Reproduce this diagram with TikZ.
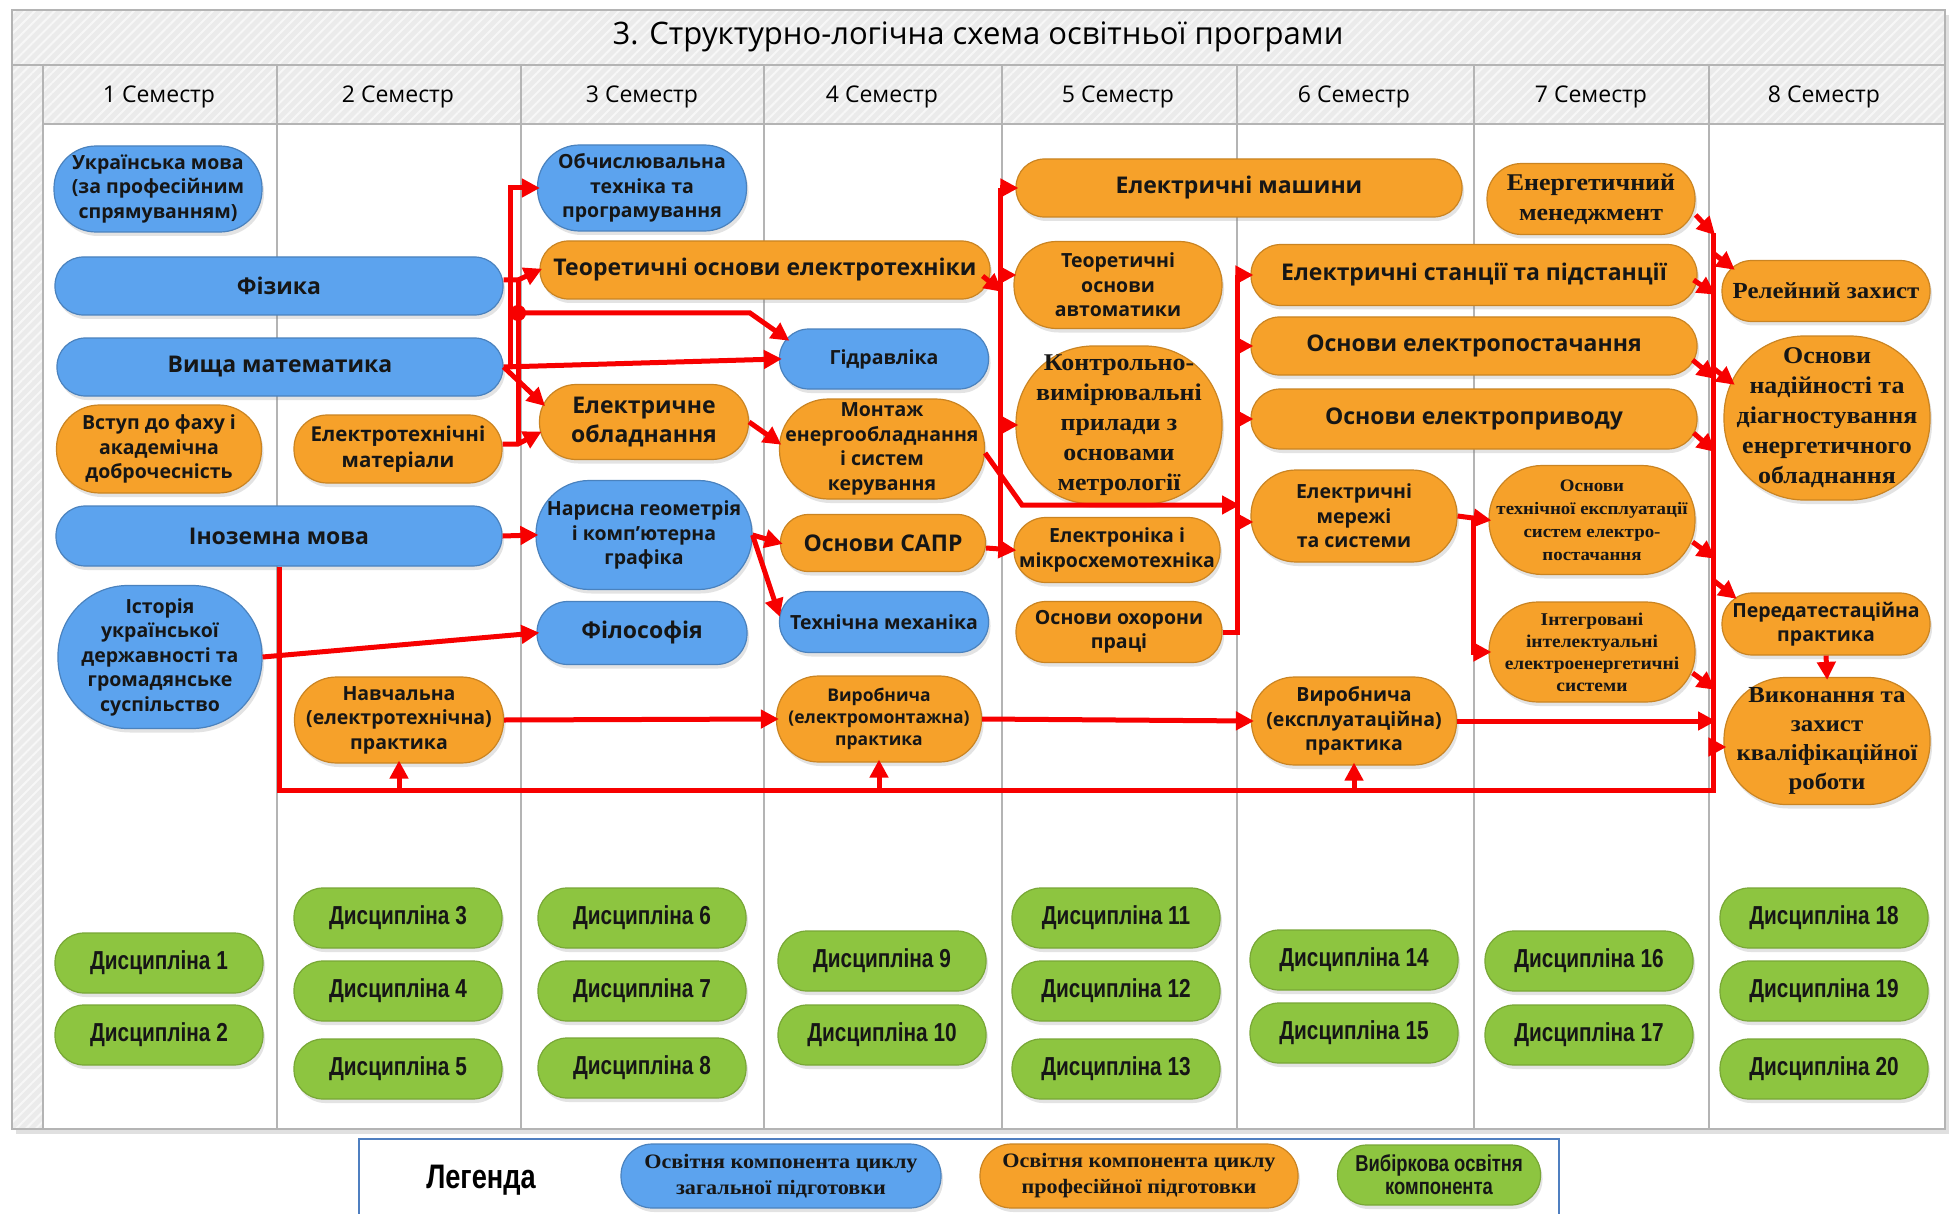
\documentclass[tikz,border=0pt]{standalone}
\usepackage{fontspec}
\setmainfont{Open Sans}
\newfontfamily\serfont[FakeStretch=1.08]{Liberation Serif}
\newfontfamily\narfont[FakeStretch=0.8]{Liberation Sans}
\usetikzlibrary{shadows,arrows.meta,patterns.meta}

\definecolor{zagblue}{HTML}{5CA3EE}
\definecolor{profor}{HTML}{F6A12A}
\definecolor{vybgreen}{HTML}{8DC540}
\definecolor{linkred}{HTML}{F70000}
\definecolor{bandgray}{HTML}{EBEBEB}
\definecolor{gridgray}{HTML}{B4B4B4}
\definecolor{inkdark}{HTML}{161616}
\definecolor{legblue}{HTML}{4F7FC0}

\newcommand{\fsz}[2]{\fontsize{#1}{#2}\selectfont}

\begin{document}
\begin{tikzpicture}[x=1pt,y=-1pt]
        \tikzstyle{comp}=[rectangle, align=center, inner sep=1pt, line width=1.2pt, text=inkdark,
                          drop shadow={shadow xshift=2pt, shadow yshift=-4pt, opacity=0.22}]
        \tikzstyle{zag}=[comp, fill=zagblue, draw=zagblue!80!black]
        \tikzstyle{prof}=[comp, fill=profor, draw=profor!82!black]
        \tikzstyle{vyb}=[comp, fill=vybgreen, draw=vybgreen!85!black, minimum width=208pt, minimum height=60pt,
                         rounded corners=29pt, font=\narfont\bfseries\fsz{26}{28}]
        \tikzstyle{big}=[font=\bfseries\fsz{23}{29}]
        \tikzstyle{sml}=[font=\bfseries\fsz{19.5}{24.5}]
        \tikzstyle{ser}=[font=\serfont\bfseries\fsz{24}{30}]
        \tikzstyle{band}=[fill=bandgray, postaction={pattern={Lines[angle=45,distance=7pt,line width=2pt]}, pattern color=white!60!bandgray}]
        \tikzset{sz/.style 2 args={minimum width=#1pt, minimum height=#2pt, rounded corners={min(#1,#2)*0.49}}}
        \tikzstyle{edge}=[draw=linkred, line width=5pt]
        \tikzstyle{arr}=[edge, -{Triangle[length=18pt,width=18pt]}, shorten >=-3pt]

        \useasboundingbox (0,0) rectangle (1950,1214);

        % frame
        \fill[black!12] (16,15) rectangle (1949,1134);
        \fill[white] (12,10) rectangle (1945,1129);
        \path[band] (12,10) rectangle (1945,65);
        \path[band] (43,65) rectangle (1945,124);
        \path[band] (12,65) rectangle (43,1129);
        \draw[gridgray, line width=1.2pt] (12,10) rectangle (1945,1129);
        \draw[gridgray, line width=1.2pt] (12,65) -- (1945,65) (43,124) -- (1945,124);
        \foreach \x in {43,277,521,764,1002,1237,1474,1709}
            \draw[gridgray, line width=1.2pt] (\x,65) -- (\x,1129);

        \node[font=\fsz{31}{36}] (title) at (978,37) {3. Структурно-логічна схема освітньої програми};
        \foreach \n/\x in {1/159,2/398,3/642,4/882,5/1118,6/1354,7/1591,8/1824}
            \node[font=\fsz{23}{26}] (sem\n) at (\x,97) {\n\ Семестр};

        % 1-2 semester
        \node[zag,  sz={208}{86},  sml] (ukr)    at (158,189)  {Українська мова\\(за професійним\\спрямуванням)};
        \node[zag,  sz={448}{58},  big] (fiz)    at (279,286)  {Фізика};
        \node[zag,  sz={446}{58},  big] (vmat)   at (280,367)  {Вища математика};
        \node[prof, sz={205}{88},  sml] (vstup)  at (159,449)  {Вступ до фаху і\\академічна\\доброчесність};
        \node[prof, sz={208}{68},  font=\bfseries\fsz{20.5}{26}] (elmat) at (398,449) {Електротехнічні\\матеріали};
        \node[zag,  sz={446}{60},  big] (inoz)   at (279,536)  {Іноземна мова};
        \node[zag,  sz={204}{143}, sml] (istor)  at (160,657)  {Історія\\української\\державності та\\громадянське\\суспільство};
        \node[prof, sz={209}{86},  sml] (navch)  at (399,720)  {Навчальна\\(електротехнічна)\\практика};

        % 3-4 semester
        \node[zag,  sz={209}{86},  sml] (obch)   at (642,188)  {Обчислювальна\\техніка та\\програмування};
        \node[prof, sz={450}{58},  big] (toe)    at (765,270)  {Теоретичні основи електротехніки};
        \node[prof, sz={209}{75},  big] (elobl)  at (644,422)  {Електричне\\обладнання};
        \node[zag,  sz={216}{109}, sml] (naris)  at (644,535)  {Нарисна геометрія\\і комп’ютерна\\графіка};
        \node[zag,  sz={210}{63},  big] (filos)  at (642,633)  {Філософія};
        \node[zag,  sz={209}{60},  sml] (gidr)   at (884,359)  {Гідравліка};
        \node[prof, sz={205}{100}, sml] (montazh) at (882,449) {Монтаж\\енергообладнання\\і систем\\керування};
        \node[prof, sz={205}{57},  big] (sapr)   at (883,543)  {Основи САПР};
        \node[zag,  sz={209}{61},  sml] (tehmeh) at (884,622)  {Технічна механіка};
        \node[prof, sz={205}{86},  font=\bfseries\fsz{17.5}{22}] (vyrob1) at (879,719) {Виробнича\\(електромонтажна)\\практика};

        % 5-6 semester
        \node[prof, sz={446}{58},  big] (elmash) at (1239,188) {Електричні машини};
        \node[prof, sz={208}{87},  sml] (toa)    at (1118,285) {Теоретичні\\основи\\автоматики};
        \node[prof, sz={206}{158}, ser] (kvp)    at (1119,425) {Контрольно-\\вимірювальні\\прилади з\\основами\\метрології};
        \node[prof, sz={206}{65},  sml] (elektron) at (1117,550) {Електроніка і\\мікросхемотехніка};
        \node[prof, sz={206}{61},  sml] (ohor)   at (1119,632) {Основи охорони\\праці};
        \node[prof, sz={446}{61},  big] (elst)   at (1474,275) {Електричні станції та підстанції};
        \node[prof, sz={446}{58},  big] (elpost) at (1474,346) {Основи електропостачання};
        \node[prof, sz={446}{60},  big] (elpryv) at (1474,419) {Основи електроприводу};
        \node[prof, sz={206}{92},  sml] (elmer)  at (1354,516) {Електричні\\мережі\\та системи};
        \node[prof, sz={205}{88},  sml] (vyrob2) at (1354,721) {Виробнича\\(експлуатаційна)\\практика};

        % 7-8 semester
        \node[prof, sz={208}{71},  ser] (enmen)  at (1591,199) {Енергетичний\\менеджмент};
        \node[prof, sz={206}{109}, font=\serfont\bfseries\fsz{17.5}{23}] (oteh) at (1592,520) {Основи\\технічної експлуатації\\систем електро-\\постачання};
        \node[prof, sz={206}{100}, font=\serfont\bfseries\fsz{18}{22}] (integr) at (1592,652) {Інтегровані\\інтелектуальні\\електроенергетичні\\системи};
        \node[prof, sz={208}{61},  font=\serfont\bfseries\fsz{23}{30}] (rel) at (1826,291) {Релейний захист};
        \node[prof, sz={206}{164}, ser] (nad)    at (1827,418) {Основи\\надійності та\\діагностування\\енергетичного\\обладнання};
        \node[prof, sz={208}{62},  sml] (pered)  at (1826,624) {Передатестаційна\\практика};
        \node[prof, sz={206}{127}, font=\serfont\bfseries\fsz{23}{29}] (vykon) at (1827,741) {Виконання та\\захист\\кваліфікаційної\\роботи};

        % elective
        \foreach \n/\x/\y in {1/159/963, 2/159/1035, 3/398/918, 4/398/991, 5/398/1069,
                              6/642/918, 7/642/991, 8/642/1068, 9/882/961, 10/882/1035,
                              11/1116/918, 12/1116/991, 13/1116/1069, 14/1354/960, 15/1354/1033,
                              16/1589/961, 17/1589/1035, 18/1824/918, 19/1824/991, 20/1824/1069}
            \node[vyb] (d\n) at (\x,\y) {Дисципліна \n};

        % links
        \coordinate (vbus)  at (510,367);
        \coordinate (fbus)  at (518,280);
        \coordinate (fbus2) at (518,444);
        \coordinate (fdot)  at (518,313);
        \coordinate (gbend) at (750,313);
        \coordinate (cb1)   at (1000,188);
        \coordinate (cb2)   at (1000,548);
        \coordinate (mbend) at (1022,505);
        \coordinate (db1)   at (1237,275);
        \coordinate (db2)   at (1237,632);
        \coordinate (eb)    at (1473,516);
        \coordinate (rb1)   at (1713,233);
        \coordinate (rb2)   at (1713,790);

        \draw[edge] (vmat.east) -- (vbus);
        \draw[arr] (vbus) |- (obch.west);
        \draw[arr] (vmat.east) -- (gidr.west);
        \draw[arr] (vmat.east) -- ([xshift=4pt,yshift=18pt]elobl.west);
        \draw[arr] ([yshift=6pt]fiz.east) -- (fbus) -- (toe.west);
        \draw[edge] (fbus) -- (fbus2);
        \draw[arr] ([yshift=5pt]elmat.east) -- (fbus2) -- ([yshift=-11pt]elobl.west);
        \fill[linkred] (fdot) circle (8pt);
        \draw[arr] (fdot) -- (gbend) -- ([xshift=8pt,yshift=20pt]gidr.west);
        \draw[arr] (inoz.east) -- (naris.west);
        \draw[arr] (istor.east) -- (filos.west);
        \draw[arr] (naris.east) -- (sapr.west);
        \draw[arr] (naris.east) -- ([yshift=8pt]tehmeh.west);
        \draw[arr] (elobl.east) -- ([yshift=6pt]montazh.west);

        \draw[edge] (cb1) -- (cb2);
        \draw[arr] (cb1) -- (elmash.west);
        \draw[arr] ([yshift=10pt]toa.west -| cb1) -- ([yshift=10pt]toa.west);
        \draw[arr] (kvp.west -| cb1) -- (kvp.west);
        \draw[arr] ([yshift=-5pt]sapr.east) -- (elektron.west);
        \draw[arr] ([xshift=-8pt,yshift=-6pt]toe.east) -- ([yshift=-102pt]cb1);
        \draw[arr] ([yshift=-4pt]montazh.east) -- (mbend) -- (mbend -| db1);

        \draw[edge] (ohor.east) -- (db2) -- (db1);
        \draw[arr] (db1) -- (elst.west);
        \draw[arr] (elpost.west -| db1) -- (elpost.west);
        \draw[arr] (elpryv.west -| db1) -- (elpryv.west);
        \draw[arr] ([yshift=-6pt]elmer.west -| db1) -- ([yshift=-6pt]elmer.west);
        \draw[arr] (elmer.east) -- (oteh.west);
        \draw[arr] (eb) |- (integr.west);

        \draw[edge] (inoz.south) -- (inoz.south |- rb2) -- (rb2) -- (rb1);
        \draw[arr] (navch.south |- rb2) -- (navch.south);
        \draw[arr] (vyrob1.south |- rb2) -- (vyrob1.south);
        \draw[arr] (vyrob2.south |- rb2) -- (vyrob2.south);
        \draw[arr] (navch.east) -- (vyrob1.west);
        \draw[arr] (vyrob1.east) -- (vyrob2.west);
        \draw[arr] (vyrob2.east) -- (vyrob2.east -| rb1);

        \draw[arr] ([yshift=-16pt]enmen.east) -- (rb1);
        \draw[arr] ([xshift=-4pt,yshift=-5pt]elst.east) -- ([yshift=-18pt]elst.east -| rb1);
        \draw[arr] ([xshift=-5pt,yshift=-14pt]elpost.east) -- ([yshift=-31pt]elpost.east -| rb1);
        \draw[arr] ([xshift=-4pt,yshift=-14pt]elpryv.east) -- ([yshift=-31pt]elpryv.east -| rb1);
        \draw[arr] ([xshift=-3pt,yshift=-22pt]oteh.east) -- ([yshift=-37pt]oteh.east -| rb1);
        \draw[arr] ([xshift=-3pt,yshift=-21pt]integr.east) -- ([yshift=-36pt]integr.east -| rb1);

        \draw[arr] ([yshift=-20pt]rb1) -- ([xshift=11pt,yshift=23pt]rel.west);
        \draw[arr] ([yshift=-135pt]rb1) -- ([xshift=9pt,yshift=35pt]nad.west);
        \draw[arr] ([yshift=-347pt]rb1) -- ([xshift=13pt,yshift=27pt]pered.west);
        \draw[arr] ([yshift=-6pt]vykon.west -| rb1) -- ([yshift=-6pt]vykon.west);
        \draw[arr] (pered.south) -- (vykon.north);

        % legend
        \draw[legblue, line width=2pt] (359,1139) rectangle (1559,1232);
        \node[font=\narfont\bfseries\fsz{34}{36}] (leg) at (481,1180) {Легенда};
        \node[zag,  sz={320}{64}, font=\serfont\bfseries\fsz{20.5}{26}] (legzag)  at (781,1176)  {Освітня компонента циклу\\загальної підготовки};
        \node[prof, sz={318}{64}, font=\serfont\bfseries\fsz{20.5}{26}] (legprof) at (1139,1176) {Освітня компонента циклу\\професійної підготовки};
        \node[vyb,  sz={203}{60}, font=\narfont\bfseries\fsz{23}{23}] (legvyb)  at (1439,1175) {Вибіркова освітня\\компонента};
\end{tikzpicture}
\end{document}
